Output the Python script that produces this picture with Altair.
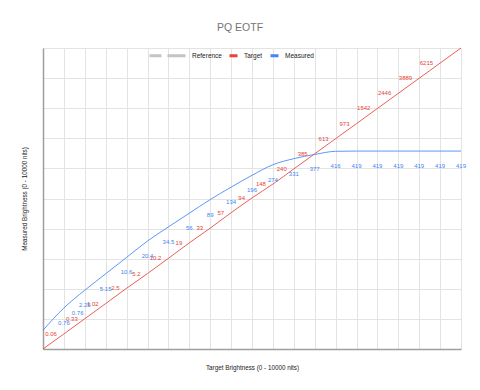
import altair as alt
import pandas as pd

# ---- data ----
signal_pct = [0, 5, 10, 15, 20, 25, 30, 35, 40, 45, 50, 55, 60, 65, 70, 75, 80, 85, 90, 95, 100]
target_nits = [0, 0.06, 0.33, 1.02, 2.5, 5.2, 10.2, 19, 33, 57, 94, 148, 240, 385, 613,
               973, 1542, 2446, 3889, 6215, 10000]
target_labels = ["", "0.06", "0.33", "1.02", "2.5", "5.2", "10.2", "19", "33", "57", "94",
                 "148", "240", "385", "613", "973", "1542", "2446", "3889", "6215", ""]
measured_nits = [0.1, 0.76, 2.25, 5.15, 10.6, 20.4, 34.5, 56, 89, 134, 196, 274, 331, 377,
                 416, 419, 419, 419, 419, 419, 419]
measured_labels = ["", "0.76", "2.25", "5.15", "10.6", "20.4", "34.5", "56", "89", "134",
                   "196", "274", "331", "377", "416", "419", "419", "419", "419", "419", "419"]
# a stray extra measured label seen in the picture
extra_pct = [8.3]
extra_nits = [1.45]
extra_labels = ["0.76"]

series_names = ["Reference", "Target", "Measured"]
series_colors = ["#c4c4c4", "#ea4335", "#4285f4"]
# legend symbols: dashed wide stroke for Reference, short bar for the others
series_symbols = ["M-8,0H-5M-3.5,0H1", "M-1,0H1", "M-1,0H1"]

RED = "#ea4335"
BLUE = "#4285f4"
FONT = "Liberation Sans"


def pq_inverse(nits):
    """Map luminance (nits) to PQ signal (0-1), the axis scale of the chart."""
    m1 = 2610 / 16384
    m2 = 2523 / 4096 * 128
    c1 = 3424 / 4096
    c2 = 2413 / 4096 * 32
    c3 = 2392 / 4096 * 32
    ym = (nits / 10000.0) ** m1
    return ((c1 + c2 * ym) / (1 + c3 * ym)) ** m2


rows = []
for p, n, lab in zip(signal_pct, target_nits, target_labels):
    rows.append({"series": "Target", "x": p / 100, "y": 0.0 if n == 0 else pq_inverse(n), "label": lab})
for p, n, lab in zip(signal_pct, measured_nits, measured_labels):
    rows.append({"series": "Measured", "x": p / 100, "y": pq_inverse(n), "label": lab})
df = pd.DataFrame(rows)

extra_df = pd.DataFrame({"x": [p / 100 for p in extra_pct],
                         "y": [pq_inverse(n) for n in extra_nits],
                         "label": extra_labels})

grid_x = [i / 20 for i in range(21)]
grid_y = [i / 10 for i in range(11)]

X = alt.X("x:Q", scale=alt.Scale(domain=[0, 1], nice=False, zero=False),
          axis=alt.Axis(values=grid_x, labels=False, ticks=False,
                        title="Target Brightness  (0 - 10000 nits)", titlePadding=15))
Y = alt.Y("y:Q", scale=alt.Scale(domain=[0, 1], nice=False, zero=False),
          axis=alt.Axis(values=grid_y, labels=False, ticks=False,
                        title="Measured Brightness  (0 - 10000 nits)", titlePadding=16))

legend = alt.Legend(
    orient="none", legendX=133, legendY=2, direction="horizontal", title=None,
    symbolSize=64, symbolStrokeWidth=3, symbolOpacity=1,
    labelFontSize=6.5, labelFont=FONT, labelColor="#222222",
    columnPadding=1, labelOffset=5,
)

color = alt.Color("series:N", scale=alt.Scale(domain=series_names, range=series_colors), legend=legend)

lines = alt.Chart(df).mark_line(strokeWidth=1, interpolate="monotone", strokeOpacity=0.85).encode(
    x=X, y=Y, color=color,
)

# legend-only layer (no rows) supplying the per-series legend symbols
legend_layer = alt.Chart(df).transform_filter("false").mark_point(filled=False, strokeWidth=3).encode(
    x=X, y=Y, color=color,
    shape=alt.Shape("series:N", scale=alt.Scale(domain=series_names, range=series_symbols), legend=legend),
)

red_labels = alt.Chart(df).transform_filter(
    "datum.series == 'Target' && datum.label != ''"
).mark_text(align="right", baseline="middle", dx=-7, fontSize=6, font=FONT, color=RED).encode(
    x=X, y=Y, text="label:N")

blue_labels = alt.Chart(df).transform_filter(
    "datum.series == 'Measured' && datum.label != ''"
).mark_text(align="center", baseline="middle", dy=15, fontSize=6, font=FONT, color=BLUE).encode(
    x=X, y=Y, text="label:N")

extra = alt.Chart(extra_df).mark_text(align="center", baseline="middle", dy=15, fontSize=6,
                                      font=FONT, color=BLUE).encode(x=X, y=Y, text="label:N")

chart = alt.layer(lines, legend_layer, red_labels, blue_labels, extra).properties(
    width=418, height=301,
    autosize=alt.AutoSizeParams(type="none"),
    padding={"left": 43, "top": 48, "right": 19, "bottom": 41},
    title=alt.TitleParams("PQ EOTF", fontSize=10.5, font=FONT, color="#757575",
                          fontWeight="normal", anchor="middle", dx=-12, offset=13),
).configure_view(stroke=None).configure_axis(
    gridColor="#e3e3e3", gridWidth=1, domainColor="#9e9e9e", domainWidth=1.5,
    titleFont=FONT, titleFontSize=6.3, titleFontWeight="normal", titleColor="#222222",
)

chart.save("out.html", embed_options={"renderer": "svg", "actions": False})
